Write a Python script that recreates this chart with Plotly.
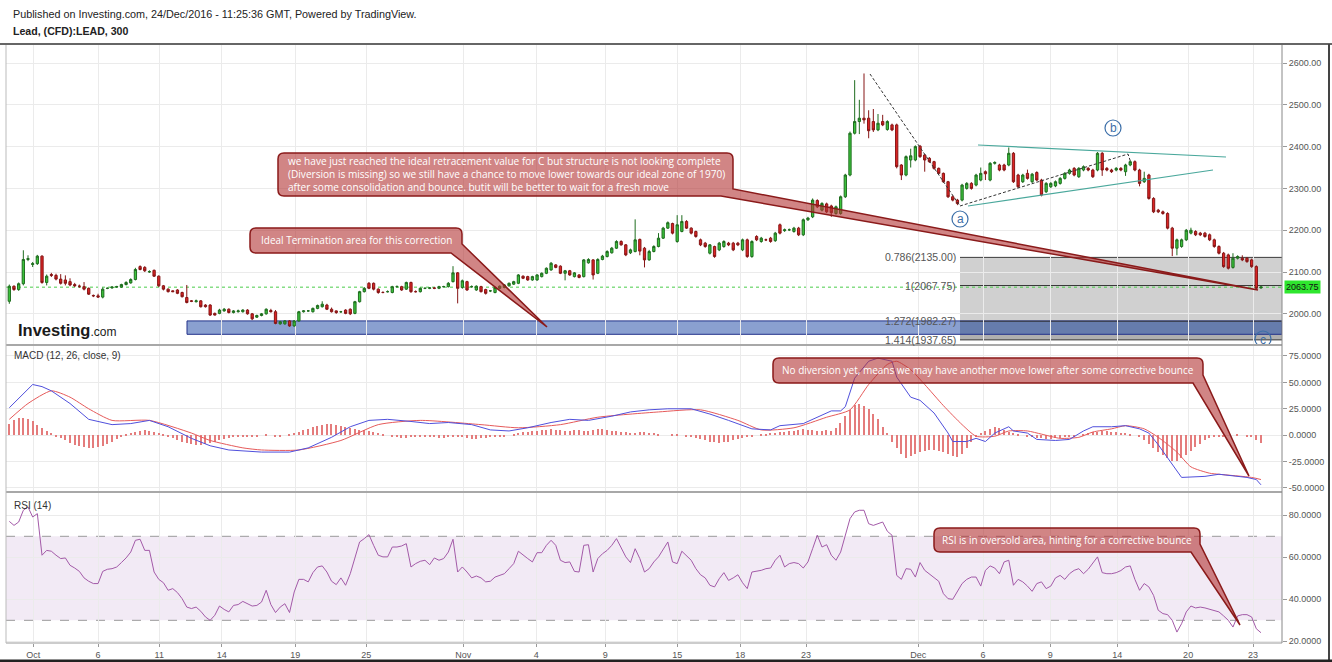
import plotly.graph_objects as go

# ---------------- data ----------------
opens = [
    2030,2066,2058,2072,2130,2118,2120,2138,2075,2094,
    2092,2083,2081,2077,2070,2066,2065,2061,2044,2043,
    2040,2061,2062,2064,2064,2070,2074,2082,2113,2111,
    2100,2104,2090,2067,2059,2055,2057,2051,2039,2031,
    2029,2031,2021,2021,2001,2001,2007,2011,2003,2005,
    2005,2009,2000,1992,1996,2000,2008,2005,1976,1976,
    1983,1971,1983,2005,2007,2005,2013,2017,2021,2011,
    2007,2005,2009,2011,2001,2029,2053,2073,2073,2059,
    2051,2053,2051,2065,2065,2059,2075,2053,2053,2061,
    2061,2062,2061,2065,2065,2077,2098,2063,2077,2065,
    2057,2065,2058,2055,2051,2061,2063,2067,2071,2073,
    2090,2089,2081,2081,2089,2097,2105,2117,2114,2097,
    2103,2089,2093,2089,2122,2129,2097,2130,2137,2146,
    2157,2173,2165,2146,2149,2178,2157,2129,2149,2161,
    2181,2205,2216,2173,2197,2221,2205,2197,2177,2169,
    2145,2161,2153,2161,2169,2169,2169,2153,2177,2137,
    2185,2173,2177,2181,2175,2213,2199,2201,2197,2205,
    2189,2225,2232,2271,2248,2263,2258,2240,2240,2280,
    2332,2432,2460,2468,2468,2460,2440,2460,2441,2452,
    2452,2356,2332,2368,2368,2401,2380,2372,2364,2348,
    2336,2316,2280,2272,2272,2300,2312,2308,2320,2340,
    2320,2360,2356,2356,2356,2384,2332,2316,2336,2316,
    2338,2320,2292,2304,2306,2312,2324,2336,2348,2328,
    2344,2348,2344,2344,2384,2348,2344,2344,2348,2340,
    2356,2364,2344,2316,2332,2276,2248,2244,2240,2205,
    2157,2161,2177,2193,2197,2193,2193,2189,2177,2161,
    2145,2141,2111,2133,2133,2133,2129,2113,2062,
]
closes = [
    2066,2058,2072,2130,2132,2120,2138,2075,2090,2092,
    2083,2073,2073,2069,2067,2066,2059,2047,2043,2040,
    2059,2061,2064,2065,2070,2075,2082,2106,2106,2103,
    2101,2090,2067,2059,2053,2053,2049,2041,2027,2030,
    2031,2017,2017,1997,1997,2009,2011,2003,2007,2007,
    2009,2000,1988,1996,2000,2011,2005,1977,1981,1983,
    1971,1983,2005,2007,2007,2013,2020,2023,2011,2005,
    2003,2005,2001,2000,2029,2053,2061,2061,2059,2051,
    2051,2053,2065,2065,2057,2075,2053,2053,2061,2061,
    2062,2061,2065,2065,2073,2098,2061,2079,2057,2065,
    2066,2053,2049,2055,2063,2066,2069,2073,2077,2093,
    2085,2081,2089,2093,2097,2109,2121,2111,2097,2103,
    2093,2098,2087,2129,2130,2093,2130,2138,2149,2157,
    2173,2165,2141,2153,2177,2150,2129,2149,2161,2181,
    2205,2218,2193,2213,2221,2205,2193,2185,2165,2161,
    2165,2137,2169,2173,2165,2153,2165,2177,2137,2173,
    2177,2181,2177,2173,2193,2193,2201,2201,2205,2189,
    2225,2229,2272,2256,2264,2244,2242,2256,2280,2332,
    2432,2460,2468,2464,2438,2440,2456,2452,2460,2440,
    2352,2332,2376,2378,2400,2376,2368,2364,2348,2336,
    2316,2280,2272,2264,2308,2312,2300,2332,2336,2335,
    2360,2362,2344,2344,2384,2316,2304,2332,2324,2334,
    2320,2284,2312,2312,2316,2324,2336,2344,2332,2348,
    2352,2344,2328,2384,2344,2344,2340,2348,2344,2356,
    2364,2344,2312,2324,2276,2244,2244,2240,2205,2157,
    2177,2177,2200,2200,2189,2189,2185,2177,2161,2145,
    2113,2109,2133,2137,2129,2125,2113,2061,2064,
]
highs = [
    2070,2068,2075,2152,2140,2124,2141,2140,2094,2098,
    2096,2095,2092,2085,2074,2070,2076,2063,2046,2048,
    2063,2063,2066,2067,2072,2078,2085,2110,2116,2114,
    2104,2106,2092,2069,2061,2056,2059,2053,2069,2033,
    2034,2033,2023,2023,2003,2012,2014,2013,2009,2010,
    2011,2011,2002,1998,2002,2013,2012,2009,1983,1985,
    1985,1985,2007,2009,2009,2015,2022,2030,2024,2015,
    2008,2007,2011,2013,2031,2055,2064,2076,2075,2061,
    2054,2056,2067,2068,2067,2077,2077,2056,2063,2063,
    2064,2064,2067,2067,2076,2114,2100,2082,2079,2068,
    2068,2067,2060,2057,2065,2068,2071,2075,2079,2095,
    2092,2091,2091,2095,2099,2111,2124,2119,2116,2105,
    2105,2100,2095,2131,2133,2131,2133,2141,2152,2160,
    2176,2176,2167,2156,2226,2180,2160,2153,2164,2193,
    2208,2221,2218,2236,2236,2224,2207,2199,2180,2172,
    2167,2163,2172,2176,2172,2172,2172,2180,2180,2176,
    2188,2184,2180,2184,2196,2216,2204,2204,2208,2208,
    2228,2232,2276,2274,2267,2266,2261,2259,2283,2335,
    2436,2559,2512,2575,2487,2490,2478,2476,2463,2455,
    2455,2358,2379,2395,2403,2404,2382,2375,2366,2350,
    2338,2318,2283,2275,2311,2315,2315,2335,2350,2343,
    2363,2365,2359,2359,2398,2387,2335,2335,2345,2337,
    2341,2323,2315,2315,2319,2327,2339,2347,2351,2351,
    2355,2351,2347,2387,2387,2351,2347,2351,2351,2359,
    2367,2367,2347,2340,2335,2279,2251,2247,2243,2208,
    2180,2180,2203,2206,2200,2196,2196,2192,2180,2164,
    2148,2144,2145,2140,2140,2136,2132,2116,2066,
]
lows = [
    2024,2055,2055,2068,2126,2112,2117,2072,2068,2088,
    2080,2070,2068,2066,2064,2062,2056,2045,2040,2038,
    2037,2059,2060,2062,2062,2068,2072,2080,2104,2100,
    2098,2088,2064,2056,2051,2052,2047,2039,2025,2028,
    2027,2015,2015,1995,1996,1999,2005,2001,2001,2003,
    2003,1998,1985,1990,1994,1998,2003,1975,1974,1974,
    1969,1969,1981,2003,2005,2003,2011,2015,2009,2003,
    2000,2002,1999,1997,1999,2027,2051,2059,2056,2048,
    2049,2051,2049,2063,2055,2057,2050,2051,2051,2059,
    2059,2059,2059,2063,2063,2075,2025,2060,2055,2062,
    2055,2051,2046,2052,2049,2059,2061,2065,2069,2071,
    2083,2079,2079,2079,2087,2095,2103,2109,2095,2080,
    2091,2087,2085,2087,2120,2082,2095,2128,2135,2144,
    2155,2163,2138,2143,2147,2140,2111,2127,2147,2159,
    2179,2203,2190,2170,2195,2203,2190,2182,2162,2158,
    2142,2134,2150,2158,2162,2150,2162,2150,2134,2134,
    2174,2170,2174,2170,2172,2190,2196,2198,2194,2186,
    2186,2222,2229,2253,2245,2241,2232,2237,2237,2277,
    2329,2429,2430,2455,2420,2435,2437,2449,2438,2437,
    2348,2320,2329,2350,2365,2373,2340,2361,2345,2333,
    2313,2277,2269,2260,2269,2297,2297,2305,2317,2320,
    2317,2357,2341,2341,2353,2313,2301,2313,2321,2313,
    2317,2281,2289,2301,2303,2309,2321,2333,2329,2325,
    2341,2341,2325,2341,2330,2341,2337,2341,2341,2330,
    2353,2341,2305,2313,2273,2241,2241,2237,2202,2138,
    2140,2158,2174,2190,2186,2186,2182,2174,2158,2142,
    2110,2106,2108,2130,2126,2122,2110,2058,2060,
]
last_price = 2063.75

# MACD(12,26,9): line and signal read at bar positions, histogram per bar
macd_bar = [0,2,5,7,9,13,17,22,26,30,34,39,43,47,54,60,64,69,73,77,81,86,90,94,99,
            103,107,111,116,120,124,129,133,137,141,146,150,154,159,163,165,170,174,
            176,178,179,181,184,186,189,190,193,195,198,201,202,205,207,209,211,214,
            215,218,220,224,227,230,232,236,239,242,244,246,249,251,256,259,265,267,268]
macd_val = [26,35,48,46,42,30,15,10,11,14,8,-3,-10,-14,-16,-16,-12,-2,8,14,15,13,11,12,10,
            5,4,7,12,15,14,18,22,24,25,25,20,14,6,5,9,11,19,
            23,23,27,54,70,73,70,55,36,33,21,2,-6,-6,-3,-6,2,8,
            4,2,-4,-5,-4,4,8,8,9,6,2,-9,-27,-40,-39,-37,-40,-42,-47]
signal_bar = [0,4,9,13,17,22,30,39,43,50,54,62,71,79,88,101,109,118,126,139,148,156,
              161,168,175,180,184,188,190,193,196,200,204,207,211,214,218,221,225,229,
              232,236,239,243,246,250,253,257,259,266,268]
signal_val = [15,30,42,36,25,14,14,2,-5,-12,-14,-14,-5,10,14,10,7,10,17,22,24,14,
              5,7,17,24,48,67,70,62,48,28,10,-1,-1,4,4,1,-3,-2,
              3,6,9,6,-2,-16,-30,-36,-37,-40,-42]
macd_hist = [
    11,14,16,16,15,13,10,7,4,2,
    -1,-3,-5,-7,-9,-10,-11,-12,-12,-11,-10,-8,-6,-4,-2,
    1,2,3,4,5,4,3,2,1,
    -1,-3,-5,-6,-7,-8,-9,-9,-8,-7,-6,-5,-4,
    -3,-2,-2,-1,-1,-2,-1,0,1,0,-1,-1,0,1,
    2,3,5,6,8,9,10,11,11,10,9,8,7,6,5,5,4,3,
    2,1,0,-1,-2,-3,-3,-2,-2,-1,-1,-2,-2,-3,-3,-2,-1,-1,-2,-3,
    -4,-4,-3,-3,-2,-2,-1,-1,0,1,2,3,
    3,4,4,5,5,6,5,5,4,4,5,5,4,4,5,6,6,5,4,4,
    3,3,2,2,3,3,2,2,1,0,0,1,1,0,-1,
    -2,-3,-4,-5,-6,-6,-7,-6,-6,-5,-4,-3,-2,-1,0,
    1,1,2,2,3,3,4,4,5,6,5,5,4,4,5,4,7,
    12,18,24,29,30,28,25,20,15,8,2,
    -6,-12,-18,-22,-20,-18,-16,-15,-14,-14,-15,-16,-18,-20,-21,-18,-12,-6,-2,
    2,4,6,8,7,5,3,2,1,0,-1,-2,
    -3,-3,-4,-4,-3,-3,-2,-2,-1,0,1,
    2,3,3,4,4,3,3,2,2,1,0,
    -2,-5,-8,-12,-16,-19,-22,-24,-24,-22,-19,-15,-11,-8,-5,-3,-2,-1,-1,0,0,
    1,0,-1,-2,-5,-7,
]

# RSI(14) per bar
rsi = [
    77.1,75.2,76.8,82.4,84.0,79.2,80.8,61.0,63.3,62.9,
    61.0,59.4,59.7,56.2,54.9,53.3,50.2,48.6,47.5,47.5,
    53.3,54.3,54.6,55.4,57.5,59.7,62.5,68.1,68.6,63.3,
    63.3,53.0,49.5,47.9,44.3,45.1,43.2,40.3,36.3,35.6,
    36.3,34.3,31.6,30.0,32.4,36.8,35.2,34.0,37.1,37.5,
    39.0,37.9,36.8,37.1,38.7,44.3,37.5,33.7,36.3,37.9,
    33.7,43.5,49.5,49.5,48.3,52.7,55.4,55.9,53.0,48.6,
    47.0,50.2,46.7,52.2,59.4,67.3,68.9,70.8,65.7,61.0,
    60.2,60.2,64.9,64.9,65.4,66.5,55.4,57.0,58.1,58.6,
    56.5,59.7,58.6,59.4,62.5,68.6,53.0,55.4,53.0,50.2,
    51.1,50.2,48.3,48.6,50.6,51.4,52.2,54.6,57.0,62.9,
    61.0,59.4,57.8,62.2,62.2,65.7,68.1,65.7,58.6,57.5,
    57.8,53.3,53.0,65.7,66.0,53.0,59.4,61.7,63.3,65.7,
    68.9,64.9,60.2,57.5,64.1,59.4,53.0,54.6,57.8,60.2,
    64.1,67.3,57.8,57.0,62.9,60.6,58.6,54.6,51.7,50.2,
    46.7,45.9,49.8,52.7,49.0,50.2,51.7,47.9,45.1,53.0,
    53.3,53.8,54.6,54.9,58.6,61.0,55.4,57.0,57.5,57.0,
    54.9,57.8,64.1,70.5,64.9,66.0,61.0,58.6,62.5,70.5,
    78.4,81.6,82.4,82.4,76.0,75.2,76.0,76.8,72.4,70.5,
    51.4,49.5,54.6,54.3,50.6,57.5,53.8,52.2,50.6,48.6,
    42.7,40.3,40.0,43.5,47.5,49.5,50.6,50.6,46.3,53.8,
    55.9,54.9,52.2,57.8,58.6,46.7,49.5,48.3,46.3,43.8,
    47.5,48.3,45.1,46.3,50.2,51.4,49.5,52.2,53.8,54.6,
    52.2,54.3,57.0,60.2,52.7,52.2,52.2,52.7,53.7,55.4,
    55.9,49.5,44.3,47.5,45.9,41.9,34.8,33.2,32.7,30.0,
    24.4,28.4,34.0,36.8,35.9,36.3,35.9,35.2,34.8,34.0,
    32.1,30.0,26.8,32.1,32.7,32.7,31.6,26.0,24.1,
]

tick_labels = ["Oct", "6", "11", "14", "19", "25", "Nov", "4", "9", "15", "18", "23",
               "Dec", "6", "9", "14", "20", "23"]
tick_bars = [5.1, 19.0, 32.1, 45.5, 61.2, 76.4, 97.2, 112.8, 127.6, 143.0, 156.5, 170.6,
             194.6, 208.5, 222.9, 237.2, 252.4, 266.3]

fib_ratios = [0.786, 1, 1.272, 1.414]
fib_prices = [2135.00, 2067.75, 1982.27, 1937.65]
zone_low, zone_high = 1951, 1983

# ---------------- layout geometry (pixels) ----------------
W, H = 1332, 662
PX_L, PX_R = 6, 1282
MAIN = (45, 345)
MACDP = (345, 492)
RSIP = (492, 643)
X_RANGE = [-0.71, 272.5]
Y_MAIN = [1925.4, 2643.1]
Y_MACD = [-53.8, 85.4]
Y_RSI = [19.2, 91.1]


def fx(x):
    return x / W


def fy(y):
    return 1 - y / H


def P(x, y):
    return f"{x / W:.5f},{1 - y / H:.5f}"


def bar_at(xpx):
    return X_RANGE[0] + (xpx - PX_L) / (PX_R - PX_L) * (X_RANGE[1] - X_RANGE[0])


def price_at(ypx):
    t, b = MAIN
    return Y_MAIN[1] - (ypx - t) / (b - t) * (Y_MAIN[1] - Y_MAIN[0])


n = len(closes)
bars = list(range(n))

fig = go.Figure()

fig.add_trace(go.Candlestick(
    x=bars, open=opens, high=highs, low=lows, close=closes,
    xaxis="x", yaxis="y",
    increasing=dict(line=dict(color="#1f6d1f", width=1), fillcolor="#3cc43c"),
    decreasing=dict(line=dict(color="#861616", width=1), fillcolor="#dd2323"),
    whiskerwidth=0, hoverinfo="skip", showlegend=False,
))

fig.add_trace(go.Bar(x=list(range(len(macd_hist))), y=macd_hist, xaxis="x2", yaxis="y2",
                     width=0.28, marker=dict(color="#e47c7c", line=dict(width=0)),
                     hoverinfo="skip", showlegend=False))
fig.add_trace(go.Scatter(x=signal_bar, y=signal_val, xaxis="x2", yaxis="y2", mode="lines",
                         line=dict(color="#e65a5a", width=1, shape="spline", smoothing=0.6),
                         hoverinfo="skip", showlegend=False))
fig.add_trace(go.Scatter(x=macd_bar, y=macd_val, xaxis="x2", yaxis="y2", mode="lines",
                         line=dict(color="#5050dc", width=1),
                         hoverinfo="skip", showlegend=False))
fig.add_trace(go.Scatter(x=list(range(len(rsi))), y=rsi, xaxis="x3", yaxis="y3", mode="lines",
                         line=dict(color="#a35aa8", width=1),
                         hoverinfo="skip", showlegend=False))

grid = "#ebebeb"
tickfont = dict(family="Liberation Sans, Arial, sans-serif", size=9, color="#555")
xcommon = dict(range=X_RANGE, domain=[fx(PX_L), fx(PX_R)], tickvals=tick_bars,
               showgrid=True, gridcolor=grid, zeroline=False, showline=False,
               fixedrange=True)
fig.update_layout(
    xaxis=dict(**xcommon, anchor="y", showticklabels=False, rangeslider=dict(visible=False)),
    xaxis2=dict(**xcommon, anchor="y2", showticklabels=False, matches="x"),
    xaxis3=dict(**xcommon, anchor="y3", ticktext=tick_labels, showticklabels=True,
                ticks="outside", ticklen=3, tickcolor="#999", tickfont=tickfont, matches="x"),
    yaxis=dict(domain=[fy(MAIN[1]), fy(MAIN[0])], range=Y_MAIN, side="right", anchor="x",
               tickvals=list(range(2000, 2601, 100)),
               ticktext=[f"{v:.2f}" for v in range(2000, 2601, 100)],
               showgrid=True, gridcolor=grid, zeroline=False, ticks="outside", ticklen=4,
               tickcolor="#999", tickfont=tickfont),
    yaxis2=dict(domain=[fy(MACDP[1]), fy(MACDP[0])], range=Y_MACD, side="right", anchor="x2",
                tickvals=[-50, -25, 0, 25, 50, 75],
                ticktext=[f"{v:.4f}" for v in [-50, -25, 0, 25, 50, 75]],
                showgrid=True, gridcolor=grid, zeroline=False, ticks="outside", ticklen=4,
                tickcolor="#999", tickfont=tickfont),
    yaxis3=dict(domain=[fy(RSIP[1]), fy(RSIP[0])], range=Y_RSI, side="right", anchor="x3",
                tickvals=[20, 40, 60, 80],
                ticktext=[f"{v:.4f}" for v in [20, 40, 60, 80]],
                showgrid=True, gridcolor=grid, zeroline=False, ticks="outside", ticklen=4,
                tickcolor="#999", tickfont=tickfont),
    width=W, height=H, margin=dict(l=0, r=0, t=0, b=0, autoexpand=False),
    paper_bgcolor="white", plot_bgcolor="white", showlegend=False, hovermode=False,
    bargap=0,
)

shapes = []
# RSI band 30-70
shapes.append(dict(type="rect", xref="x3", yref="y3", x0=X_RANGE[0], x1=X_RANGE[1], y0=30, y1=70,
                   fillcolor="rgba(150,80,170,0.12)", line=dict(width=0), layer="below"))
for lvl in (30, 70):
    shapes.append(dict(type="line", xref="x3", yref="y3", x0=X_RANGE[0], x1=X_RANGE[1], y0=lvl, y1=lvl,
                       line=dict(color="#9a9a9a", width=1, dash="dash"), layer="below"))

# Fibonacci extension block
fib_start = bar_at(960)
shapes.append(dict(type="rect", xref="x", yref="y", x0=fib_start, x1=X_RANGE[1],
                   y0=fib_prices[2], y1=fib_prices[0],
                   fillcolor="rgba(150,150,150,0.45)", line=dict(width=0), layer="below"))
shapes.append(dict(type="rect", xref="x", yref="y", x0=fib_start, x1=X_RANGE[1],
                   y0=fib_prices[3], y1=fib_prices[2],
                   fillcolor="rgba(110,110,110,0.55)", line=dict(width=0), layer="below"))
# Ideal termination zone (blue)
shapes.append(dict(type="rect", xref="x", yref="y", x0=bar_at(187), x1=X_RANGE[1],
                   y0=zone_low, y1=zone_high,
                   fillcolor="rgba(42,82,170,0.55)", line=dict(color="#22318a", width=1), layer="below"))
for p in fib_prices:
    shapes.append(dict(type="line", xref="x", yref="y", x0=fib_start, x1=X_RANGE[1], y0=p, y1=p,
                       line=dict(color="#3a3a3a", width=1), layer="below"))
# last price dotted line
shapes.append(dict(type="line", xref="x", yref="y", x0=X_RANGE[0], x1=X_RANGE[1],
                   y0=last_price, y1=last_price,
                   line=dict(color="#49cc49", width=1, dash="dot"), layer="below"))

# wave drawings
shapes.append(dict(type="line", xref="paper", yref="paper", x0=fx(870), y0=fy(74), x1=fx(960), y1=fy(206),
                   line=dict(color="#333", width=1, dash="3px,2px"), layer="above"))
shapes.append(dict(type="path", xref="paper", yref="paper",
                   path=f"M{P(960,206)} L{P(1128,154)} L{P(1131,163)}",
                   line=dict(color="#333", width=1, dash="3px,2px"), layer="above"))
shapes.append(dict(type="line", xref="paper", yref="paper", x0=fx(978), y0=fy(145), x1=fx(1226), y1=fy(157),
                   line=dict(color="#4aa89c", width=1.2), layer="above"))
shapes.append(dict(type="line", xref="paper", yref="paper", x0=fx(968), y0=fy(206), x1=fx(1213), y1=fy(170),
                   line=dict(color="#4aa89c", width=1.2), layer="above"))
# wave circles
for cx, cy in ((960, 219), (1113, 128)):
    shapes.append(dict(type="circle", xref="paper", yref="paper", x0=fx(cx - 8), x1=fx(cx + 8),
                       y0=fy(cy + 8), y1=fy(cy - 8), line=dict(color="#3b6ea8", width=1.2), layer="above"))
shapes.append(dict(type="circle", xref="x", yref="y", x0=bar_at(1255), x1=bar_at(1271),
                   y0=price_at(347), y1=price_at(331), line=dict(color="#3b6ea8", width=1.2), layer="above"))


def callout_path(x0, y0, x1, y1, r, ya, xb, tip):
    tx, ty = tip
    return (f"M{P(x0 + r, y0)} L{P(x1 - r, y0)} Q{P(x1, y0)} {P(x1, y0 + r)} "
            f"L{P(x1, ya)} L{P(tx, ty)} L{P(xb, y1)} L{P(x0 + r, y1)} "
            f"Q{P(x0, y1)} {P(x0, y1 - r)} L{P(x0, y0 + r)} Q{P(x0, y0)} {P(x0 + r, y0)} Z")


callouts = [
    (250, 228, 462, 253, 6, 244, 451, (547, 327)),
    (278, 153, 733, 196, 6, 189, 721, (1258, 290)),
    (773, 358, 1203, 383, 6, 375, 1193, (1249, 476)),
    (934, 528, 1200, 552, 6, 544, 1191, (1240, 625)),
]
for c in callouts:
    shapes.append(dict(type="path", xref="paper", yref="paper", path=callout_path(*c),
                       fillcolor="rgba(178,52,52,0.6)", line=dict(color="#8a1a1a", width=1.5),
                       layer="above"))

# frame lines
shapes += [
    dict(type="line", xref="paper", yref="paper", x0=0, x1=1, y0=fy(44), y1=fy(44),
         line=dict(color="#666", width=2)),
    dict(type="line", xref="paper", yref="paper", x0=fx(PX_L), x1=fx(PX_R), y0=fy(345), y1=fy(345),
         line=dict(color="#a8a8a8", width=2)),
    dict(type="line", xref="paper", yref="paper", x0=fx(PX_L), x1=fx(PX_R), y0=fy(492), y1=fy(492),
         line=dict(color="#a8a8a8", width=2)),
    dict(type="line", xref="paper", yref="paper", x0=fx(PX_L), x1=fx(PX_R), y0=fy(643), y1=fy(643),
         line=dict(color="#999", width=1)),
    dict(type="line", xref="paper", yref="paper", x0=fx(PX_R), x1=fx(PX_R), y0=fy(45), y1=fy(643),
         line=dict(color="#888", width=1)),
    dict(type="line", xref="paper", yref="paper", x0=fx(PX_L), x1=fx(PX_L), y0=fy(45), y1=fy(643),
         line=dict(color="#bbb", width=1)),
    dict(type="line", xref="paper", yref="paper", x0=fx(1329), x1=fx(1329), y0=fy(44), y1=fy(662),
         line=dict(color="#444", width=2)),
    dict(type="line", xref="paper", yref="paper", x0=0, x1=1, y0=fy(661), y1=fy(661),
         line=dict(color="#222", width=3)),
]
fig.update_layout(shapes=shapes)

ann = []
hdr_font = "Liberation Sans, Arial, sans-serif"
ann.append(dict(xref="paper", yref="paper", x=fx(11), y=fy(14), xanchor="left", yanchor="middle",
                text="Published on Investing.com, 24/Dec/2016 - 11:25:36 GMT, Powered by TradingView.",
                showarrow=False, font=dict(family=hdr_font, size=10.8, color="#222")))
ann.append(dict(xref="paper", yref="paper", x=fx(11), y=fy(31), xanchor="left", yanchor="middle",
                text="<b>Lead, (CFD):LEAD, 300</b>",
                showarrow=False, font=dict(family=hdr_font, size=10.6, color="#222")))
ann.append(dict(xref="paper", yref="paper", x=fx(12), y=fy(355), xanchor="left", yanchor="middle",
                text="MACD (12, 26, close, 9)", showarrow=False,
                font=dict(family=hdr_font, size=10, color="#333")))
ann.append(dict(xref="paper", yref="paper", x=fx(12), y=fy(505), xanchor="left", yanchor="middle",
                text="RSI (14)", showarrow=False,
                font=dict(family=hdr_font, size=10, color="#333")))
ann.append(dict(xref="paper", yref="paper", x=fx(16), y=fy(330), xanchor="left", yanchor="middle",
                text="<b>Investing</b><span style='font-size:12px'>.com</span>", showarrow=False,
                font=dict(family=hdr_font, size=16.5, color="#1a1a1a")))
# fib labels
for r, p in zip(fib_ratios, fib_prices):
    ann.append(dict(xref="paper", yref="y", x=fx(958), y=p, xanchor="right", yanchor="middle",
                    text=f"{r:g}({p:.2f})", showarrow=False,
                    font=dict(family=hdr_font, size=10.5, color="#555")))
# last price tag
ann.append(dict(xref="paper", yref="y", x=fx(1284), y=last_price, xanchor="left", yanchor="middle",
                text=f"{last_price:.2f}", showarrow=False, bgcolor="#2ee62e", borderpad=1,
                font=dict(family=hdr_font, size=9, color="#111")))
# wave letters
for (cx, cy, t) in ((960, 219, "a"), (1113, 128, "b"), (1263, 340, "c")):
    ann.append(dict(xref="paper", yref="paper", x=fx(cx), y=fy(cy), xanchor="center", yanchor="middle",
                    text=t, showarrow=False, font=dict(family=hdr_font, size=12, color="#3b6ea8")))

cfont = dict(family="Open Sans, sans-serif", size=10, color="white")
ann.append(dict(xref="paper", yref="paper", x=fx(356), y=fy(240), xanchor="center", yanchor="middle",
                text="Ideal Termination area for this correction", showarrow=False, font=cfont))
big_lines = [
    "we have just reached the ideal retracement value for C but structure is not looking complete",
    "(Diversion is missing) so we still have a chance to move lower towards our ideal zone of 1970)",
    "after some consolidation and bounce. butit will be better to wait for a fresh move",
]
ann.append(dict(xref="paper", yref="paper", x=fx(286), y=fy(174.5), xanchor="left",
                yanchor="middle", align="left", text="<br>".join(big_lines), showarrow=False,
                font=dict(family="Open Sans, sans-serif", size=10.1, color="white")))
ann.append(dict(xref="paper", yref="paper", x=fx(988), y=fy(370), xanchor="center", yanchor="middle",
                text="No diversion yet, means we may have another move lower after some corrective bounce",
                showarrow=False, font=cfont))
ann.append(dict(xref="paper", yref="paper", x=fx(1067), y=fy(540), xanchor="center", yanchor="middle",
                text="RSI is in oversold area, hinting for a corrective bounce",
                showarrow=False, font=cfont))
fig.update_layout(annotations=ann)

fig.write_html("out.html", include_plotlyjs=True, config={"displayModeBar": False})
